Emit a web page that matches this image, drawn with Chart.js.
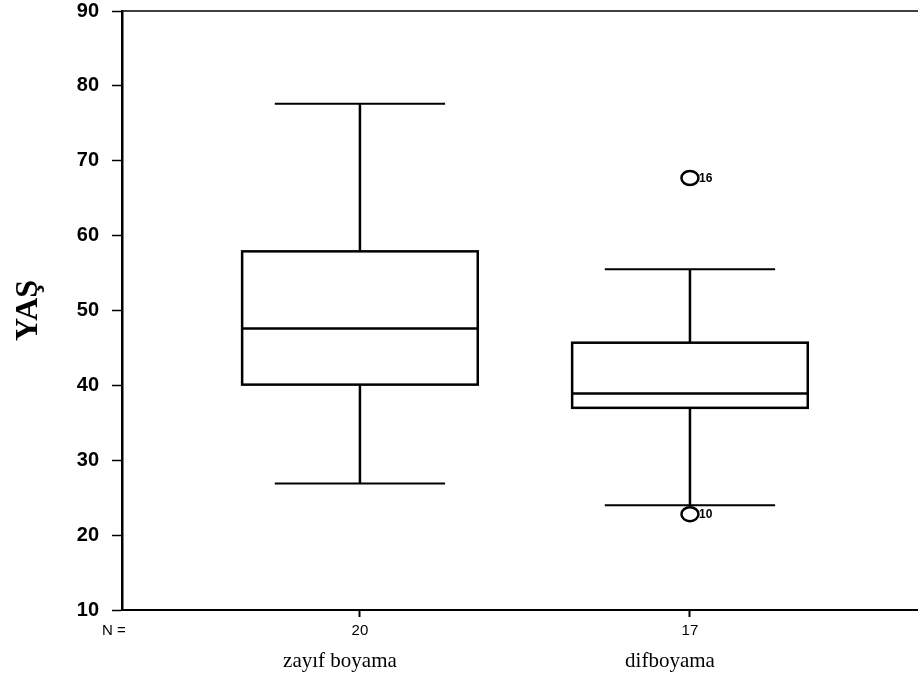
<!DOCTYPE html>
<html>
<head>
<meta charset="utf-8">
<script src="https://cdn.jsdelivr.net/npm/chart.js@4"></script>
<style>
  html, body { margin: 0; padding: 0; background: #ffffff; }
  #wrap { width: 918px; height: 688px; }
</style>
</head>
<body>
<div id="wrap"><canvas id="c" width="918" height="688"></canvas></div>
<script>
// ---- data ----
const categories = ['zayıf boyama', 'difboyama'];
const nCounts = ['20', '17'];
const whiskerLow = [26.9, 24.0];
const q1Values = [40.1, 37.0];
const medianValues = [47.6, 38.9];
const q3Values = [57.9, 45.7];
const whiskerHigh = [77.6, 55.5];
const outlierCategory = [2, 2];
const outlierValues = [67.7, 22.8];
const outlierLabels = ['16', '10'];
const yTicks = [10, 20, 30, 40, 50, 60, 70, 80, 90];

// ---- style ----
const BOX_HALF = 0.357;
const CAP_HALF = 0.258;

const boxPlugin = {
  id: 'boxPlugin',
  afterDatasetsDraw(chart) {
    const ctx = chart.ctx;
    const xs = chart.scales.x, ys = chart.scales.y;
    const area = chart.chartArea;
    ctx.save();
    ctx.strokeStyle = '#000';
    ctx.lineCap = 'butt';
    // top frame line
    ctx.lineWidth = 1.5;
    ctx.beginPath();
    ctx.moveTo(area.left, area.top);
    ctx.lineTo(area.right, area.top);
    ctx.stroke();

    categories.forEach((cat, i) => {
      const xc = xs.getPixelForValue(i + 1);
      const xl = xs.getPixelForValue(i + 1 - BOX_HALF);
      const xr = xs.getPixelForValue(i + 1 + BOX_HALF);
      const cl = xs.getPixelForValue(i + 1 - CAP_HALF);
      const cr = xs.getPixelForValue(i + 1 + CAP_HALF);
      const yMin = ys.getPixelForValue(whiskerLow[i]);
      const yQ1 = ys.getPixelForValue(q1Values[i]);
      const yMed = ys.getPixelForValue(medianValues[i]);
      const yQ3 = ys.getPixelForValue(q3Values[i]);
      const yMax = ys.getPixelForValue(whiskerHigh[i]);
      ctx.lineWidth = 2.5;
      // whiskers
      ctx.beginPath();
      ctx.moveTo(xc, yQ3); ctx.lineTo(xc, yMax);
      ctx.moveTo(xc, yQ1); ctx.lineTo(xc, yMin);
      ctx.stroke();
      ctx.lineWidth = 2;
      ctx.beginPath();
      ctx.moveTo(cl, yMax); ctx.lineTo(cr, yMax);
      ctx.moveTo(cl, yMin); ctx.lineTo(cr, yMin);
      ctx.stroke();
      // box
      ctx.lineWidth = 2.5;
      ctx.strokeRect(xl, yQ3, xr - xl, yQ1 - yQ3);
      ctx.beginPath();
      ctx.moveTo(xl, yMed); ctx.lineTo(xr, yMed);
      ctx.stroke();
    });

    // outliers
    outlierValues.forEach((v, k) => {
      const px = xs.getPixelForValue(outlierCategory[k]);
      const py = ys.getPixelForValue(v);
      ctx.fillStyle = '#fff';
      ctx.lineWidth = 2.5;
      ctx.beginPath();
      ctx.ellipse(px, py, 8.5, 7, 0, 0, Math.PI * 2);
      ctx.fill();
      ctx.stroke();
      ctx.fillStyle = '#000';
      ctx.font = 'bold 12px "Liberation Sans", Arial, sans-serif';
      ctx.textAlign = 'left';
      ctx.textBaseline = 'middle';
      ctx.fillText(outlierLabels[k], px + 9, py + 1);
    });

    // "N =" label
    ctx.fillStyle = '#000';
    ctx.font = '15px "Liberation Sans", Arial, sans-serif';
    ctx.textAlign = 'center';
    ctx.textBaseline = 'middle';
    ctx.fillText('N =', 114, 631);
    ctx.restore();
  }
};

const chart = new Chart(document.getElementById('c'), {
  type: 'scatter',
  data: { datasets: [{ data: [], pointRadius: 0 }] },
  options: {
    responsive: false,
    animation: false,
    events: [],
    layout: { padding: { top: 11, right: 0, bottom: 0, left: 0 } },
    plugins: { legend: { display: false }, tooltip: { enabled: false } },
    scales: {
      x: {
        type: 'linear',
        position: 'bottom',
        weight: 0,
        min: 0.279,
        max: 2.691,
        afterBuildTicks(s) { s.ticks = categories.map((c, i) => ({ value: i + 1 })); },
        afterFit(s) { s.height = 32; s.paddingLeft = 0; s.paddingRight = 0; },
        ticks: {
          color: '#000',
          padding: 5,
          font: { family: '"Liberation Sans", Arial, sans-serif', size: 15 },
          callback: (v) => nCounts[Math.round(v) - 1]
        },
        grid: { drawOnChartArea: false, color: '#000', tickLength: 7, tickWidth: 2 },
        border: { color: '#000', width: 2 }
      },
      x2: {
        type: 'linear',
        position: 'bottom',
        weight: 1,
        min: 0.279,
        max: 2.691,
        afterBuildTicks(s) { s.ticks = categories.map((c, i) => ({ value: i + 1 })); },
        afterFit(s) { s.height = 46; s.paddingLeft = 0; s.paddingRight = 0; },
        ticks: {
          color: '#000',
          padding: 7,
          labelOffset: -20,
          font: { family: '"Liberation Serif", "Times New Roman", serif', size: 21 },
          callback: (v) => categories[Math.round(v) - 1]
        },
        grid: { display: false, drawTicks: false },
        border: { display: false }
      },
      y: {
        type: 'linear',
        position: 'left',
        min: 10,
        max: 90,
        afterBuildTicks(s) { s.ticks = yTicks.map(v => ({ value: v })); },
        afterFit(s) { s.width = 122; s.paddingTop = 0; s.paddingBottom = 0; },
        ticks: {
          color: '#000',
          padding: 13,
          font: { family: '"Liberation Sans", Arial, sans-serif', size: 20, weight: 'bold' }
        },
        title: {
          display: true,
          text: 'YAŞ',
          color: '#000',
          padding: { top: 10, bottom: 0 },
          font: { family: '"Liberation Serif", "Times New Roman", serif', size: 32, weight: 'bold' }
        },
        grid: { drawOnChartArea: false, color: '#000', tickLength: 10, tickWidth: 1.5 },
        border: { color: '#000', width: 2.5 }
      }
    }
  },
  plugins: [boxPlugin]
});
</script>
</body>
</html>
